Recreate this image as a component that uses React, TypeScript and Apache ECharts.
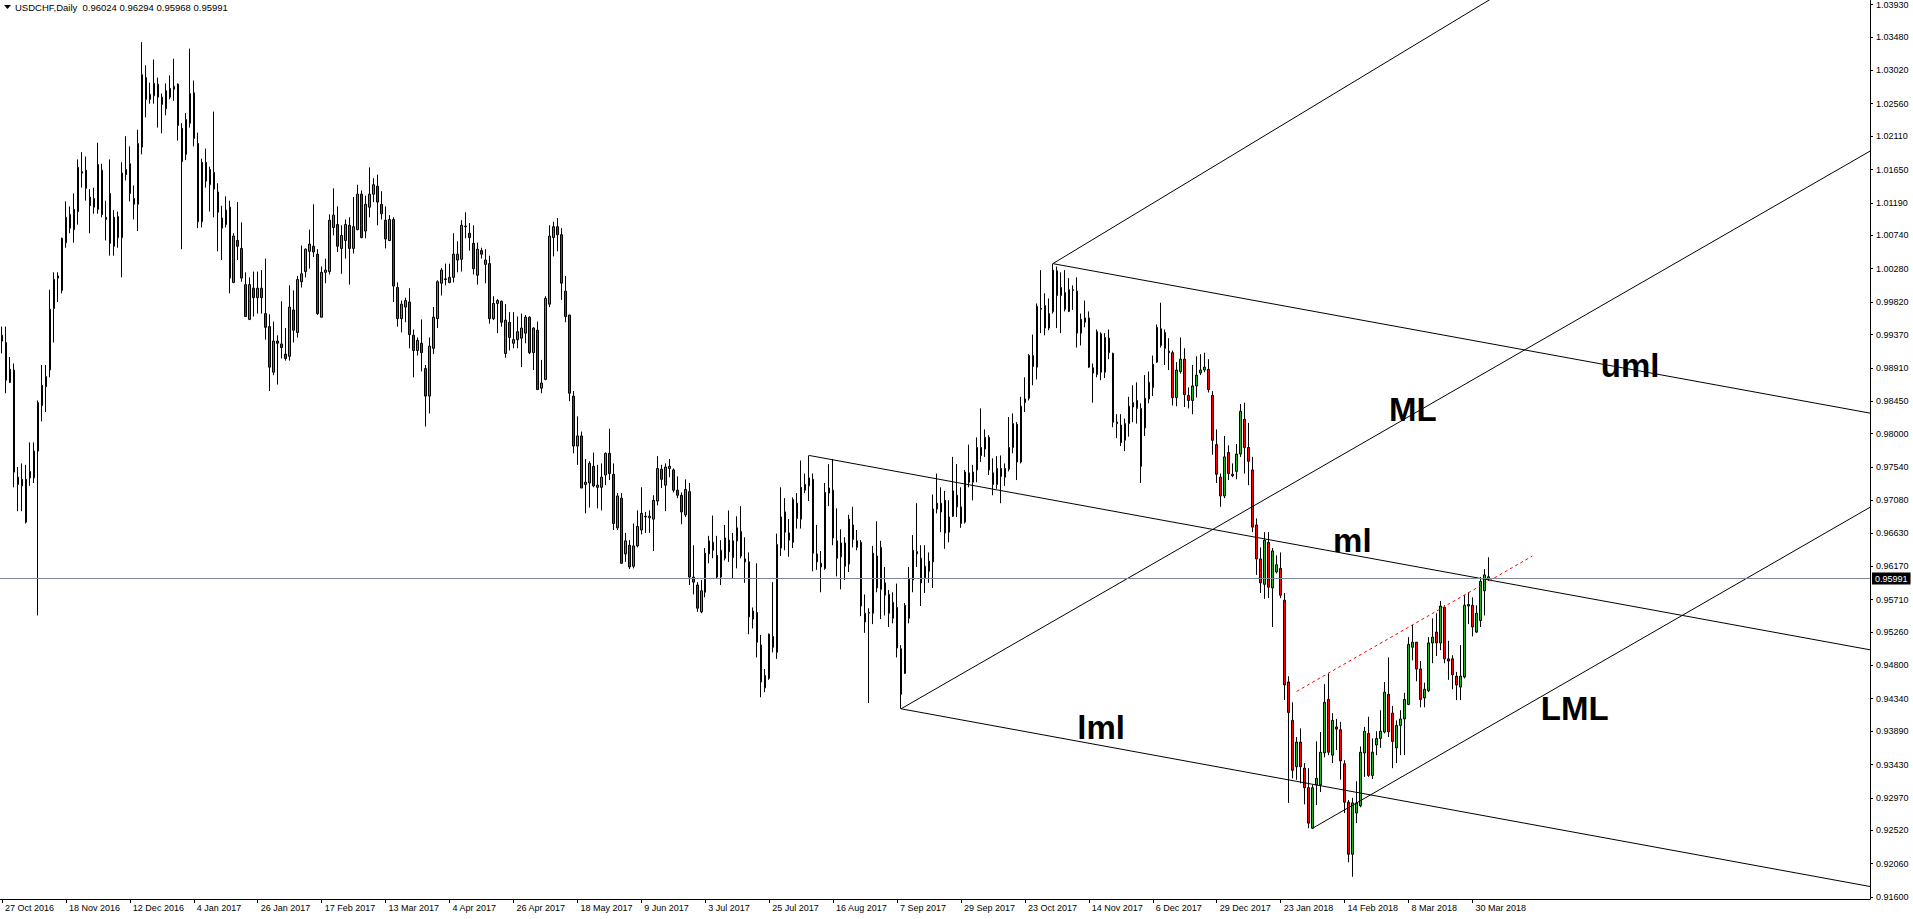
import React, { useEffect, useRef } from "react";
import * as echarts from "echarts";

const SYMBOL = "USDCHF";
const PERIOD = "Daily";

const opens = [
  0.9928, 0.9926, 0.9871, 0.9888, 0.9740, 0.9728, 0.9737, 0.9748, 0.9739, 0.9776,
  0.9839, 0.9865, 0.9888, 0.9973, 1.0015, 0.9998, 1.0064, 1.0103, 1.0082, 1.0107,
  1.0160, 1.0164, 1.0115, 1.0125, 1.0110, 1.0164, 1.0096, 1.0132, 1.0059, 1.0100,
  1.0071, 1.0158, 1.0173, 1.0125, 1.0117, 1.0196, 1.0292, 1.0262, 1.0267, 1.0283,
  1.0265, 1.0249, 1.0265, 1.0276, 1.0283, 1.0222, 1.0186, 1.0229, 1.0271, 1.0201,
  1.0093, 1.0175, 1.0144, 1.0161, 1.0134, 1.0098, 1.0089, 1.0113, 1.0009, 1.0067,
  1.0056, 1.0006, 0.9958, 1.0001, 0.9988, 1.0001, 0.9966, 0.9948, 0.9885, 0.9928,
  0.9924, 0.9910, 0.9907, 0.9971, 0.9940, 1.0010, 1.0024, 1.0052, 1.0059, 1.0048,
  0.9961, 1.0023, 1.0024, 1.0085, 1.0089, 1.0056, 1.0067, 1.0088, 1.0056, 1.0082,
  1.0131, 1.0080, 1.0113, 1.0131, 1.0142, 1.0117, 1.0095, 1.0067, 1.0096, 1.0002,
  0.9959, 0.9975, 0.9982, 0.9936, 0.9915, 0.9925, 0.9890, 0.9852, 0.9918, 0.9959,
  1.0008, 1.0014, 1.0009, 1.0016, 1.0040, 1.0041, 1.0086, 1.0077, 1.0063, 1.0019,
  1.0053, 1.0034, 1.0035, 0.9959, 0.9980, 0.9983, 0.9911, 0.9954, 0.9925, 0.9930,
  0.9932, 0.9939, 0.9961, 0.9912, 0.9943, 0.9863, 0.9875, 0.9979, 1.0071, 1.0086,
  1.0075, 0.9997, 0.9964, 0.9852, 0.9783, 0.9797, 0.9730, 0.9732, 0.9755, 0.9726,
  0.9726, 0.9743, 0.9773, 0.9744, 0.9670, 0.9711, 0.9634, 0.9646, 0.9617, 0.9645,
  0.9667, 0.9685, 0.9684, 0.9682, 0.9707, 0.9751, 0.9729, 0.9752, 0.9750, 0.9722,
  0.9715, 0.9688, 0.9720, 0.9602, 0.9591, 0.9554, 0.9581, 0.9634, 0.9650, 0.9632,
  0.9602, 0.9628, 0.9653, 0.9629, 0.9652, 0.9665, 0.9627, 0.9623, 0.9544, 0.9553,
  0.9508, 0.9449, 0.9462, 0.9520, 0.9498, 0.9642, 0.9692, 0.9663, 0.9650, 0.9704,
  0.9682, 0.9722, 0.9728, 0.9737, 0.9634, 0.9621, 0.9614, 0.9718, 0.9722, 0.9652,
  0.9630, 0.9649, 0.9620, 0.9674, 0.9643, 0.9650, 0.9540, 0.9552, 0.9552, 0.9631,
  0.9585, 0.9594, 0.9578, 0.9545, 0.9560, 0.9503, 0.9469, 0.9545, 0.9598, 0.9637,
  0.9628, 0.9601, 0.9610, 0.9623, 0.9696, 0.9704, 0.9708, 0.9664, 0.9686, 0.9715,
  0.9699, 0.9678, 0.9746, 0.9733, 0.9750, 0.9781, 0.9779, 0.9795, 0.9746, 0.9730,
  0.9741, 0.9740, 0.9751, 0.9781, 0.9813, 0.9761, 0.9843, 0.9849, 0.9908, 0.9892,
  0.9972, 0.9977, 0.9946, 0.9969, 1.0025, 0.9991, 0.9995, 0.9969, 0.9999, 0.9997,
  0.9939, 0.9954, 0.9960, 0.9891, 0.9882, 0.9938, 0.9885, 0.9932, 0.9911, 0.9816,
  0.9812, 0.9791, 0.9814, 0.9837, 0.9846, 0.9835, 0.9808, 0.9848, 0.9864, 0.9899,
  0.9945, 0.9940, 0.9914, 0.9912, 0.9850, 0.9886, 0.9903, 0.9853, 0.9846, 0.9866,
  0.9884, 0.9888, 0.9889, 0.9853, 0.9785, 0.9740, 0.9714, 0.9774, 0.9744, 0.9748,
  0.9772, 0.9820, 0.9781, 0.9750, 0.9674, 0.9627, 0.9592, 0.9650, 0.9587, 0.9609,
  0.9614, 0.9570, 0.9457, 0.9404, 0.9340, 0.9374, 0.9338, 0.9311, 0.9255, 0.9315,
  0.9315, 0.9359, 0.9433, 0.9356, 0.9395, 0.9391, 0.9344, 0.9291, 0.9219, 0.9276,
  0.9286, 0.9359, 0.9386, 0.9328, 0.9370, 0.9379, 0.9388, 0.9440, 0.9414, 0.9366,
  0.9397, 0.9406, 0.9426, 0.9505, 0.9512, 0.9475, 0.9435, 0.9445, 0.9511, 0.9526,
  0.9511, 0.9560, 0.9489, 0.9489, 0.9465, 0.9450, 0.9464, 0.9562, 0.9563, 0.9526,
  0.9542, 0.9583, 0.96024,
];

const closes = [
  0.9936, 0.9874, 0.9889, 0.9747, 0.9730, 0.9737, 0.9678, 0.9739, 0.9776, 0.9843,
  0.9867, 0.9879, 0.9972, 1.0013, 1.0018, 1.0070, 1.0099, 1.0084, 1.0110, 1.0168,
  1.0162, 1.0139, 1.0127, 1.0113, 1.0172, 1.0103, 1.0099, 1.0063, 1.0099, 1.0071,
  1.0160, 1.0165, 1.0132, 1.0117, 1.0201, 1.0296, 1.0262, 1.0269, 1.0284, 1.0265,
  1.0255, 1.0274, 1.0277, 1.0280, 1.0226, 1.0176, 1.0234, 1.0270, 1.0208, 1.0093,
  1.0175, 1.0149, 1.0165, 1.0138, 1.0106, 1.0084, 1.0109, 1.0015, 1.0073, 1.0059,
  1.0015, 0.9962, 1.0006, 0.9988, 1.0001, 0.9988, 0.9947, 0.9892, 0.9928, 0.9925,
  0.9919, 0.9904, 0.9975, 0.9943, 1.0013, 1.0021, 1.0055, 1.0062, 1.0051, 0.9966,
  1.0023, 1.0026, 1.0095, 1.0102, 1.0059, 1.0074, 1.0089, 1.0056, 1.0086, 1.0131,
  1.0071, 1.0117, 1.0131, 1.0144, 1.0120, 1.0104, 1.0069, 1.0096, 1.0004, 0.9959,
  0.9979, 0.9984, 0.9937, 0.9915, 0.9929, 0.9912, 0.9852, 0.9921, 0.9961, 1.0010,
  1.0026, 1.0013, 1.0016, 1.0048, 1.0048, 1.0088, 1.0087, 1.0071, 1.0028, 1.0055,
  1.0048, 1.0040, 0.9959, 0.9980, 0.9984, 0.9954, 0.9957, 0.9933, 0.9930, 0.9941,
  0.9946, 0.9961, 0.9912, 0.9946, 0.9861, 0.9870, 0.9987, 1.0073, 1.0086, 1.0075,
  1.0008, 0.9962, 0.9856, 0.9783, 0.9797, 0.9725, 0.9733, 0.9759, 0.9728, 0.9729,
  0.9740, 0.9773, 0.9745, 0.9676, 0.9714, 0.9621, 0.9652, 0.9616, 0.9645, 0.9672,
  0.9690, 0.9686, 0.9686, 0.9708, 0.9752, 0.9737, 0.9754, 0.9755, 0.9722, 0.9715,
  0.9692, 0.9723, 0.9602, 0.9595, 0.9559, 0.9583, 0.9635, 0.9652, 0.9639, 0.9602,
  0.9639, 0.9656, 0.9637, 0.9652, 0.9670, 0.9631, 0.9623, 0.9547, 0.9555, 0.9512,
  0.9457, 0.9466, 0.9523, 0.9505, 0.9647, 0.9685, 0.9664, 0.9653, 0.9709, 0.9683,
  0.9726, 0.9730, 0.9739, 0.9635, 0.9623, 0.9616, 0.9719, 0.9725, 0.9656, 0.9628,
  0.9649, 0.9617, 0.9682, 0.9654, 0.9652, 0.9562, 0.9552, 0.9553, 0.9635, 0.9587,
  0.9643, 0.9577, 0.9552, 0.9567, 0.9504, 0.9440, 0.9563, 0.9599, 0.9639, 0.9634,
  0.9594, 0.9617, 0.9624, 0.9696, 0.9704, 0.9692, 0.9663, 0.9685, 0.9721, 0.9699,
  0.9676, 0.9747, 0.9733, 0.9747, 0.9781, 0.9770, 0.9795, 0.9750, 0.9730, 0.9752,
  0.9752, 0.9752, 0.9781, 0.9814, 0.9761, 0.9838, 0.9848, 0.9908, 0.9893, 0.9976,
  0.9973, 0.9946, 0.9966, 1.0026, 0.9991, 1.0002, 0.9972, 0.9999, 0.9998, 0.9939,
  0.9958, 0.9960, 0.9892, 0.9884, 0.9941, 0.9885, 0.9933, 0.9912, 0.9816, 0.9814,
  0.9788, 0.9814, 0.9838, 0.9843, 0.9835, 0.9755, 0.9849, 0.9871, 0.9896, 0.9947,
  0.9922, 0.9918, 0.9912, 0.9850, 0.9888, 0.9903, 0.9854, 0.9846, 0.9866, 0.9881,
  0.9888, 0.9892, 0.9861, 0.9791, 0.9744, 0.9714, 0.9768, 0.9745, 0.9742, 0.9772,
  0.9831, 0.9781, 0.9762, 0.9671, 0.9627, 0.9594, 0.9653, 0.9588, 0.9638, 0.9619,
  0.9577, 0.9453, 0.9415, 0.9335, 0.9374, 0.9340, 0.9311, 0.9262, 0.9311, 0.9324,
  0.9360, 0.9429, 0.9360, 0.9404, 0.9392, 0.9348, 0.9291, 0.9219, 0.9290, 0.9290,
  0.9360, 0.9389, 0.9328, 0.9360, 0.9379, 0.9389, 0.9443, 0.9388, 0.9375, 0.9397,
  0.9406, 0.9433, 0.9509, 0.9512, 0.9475, 0.9433, 0.9447, 0.9511, 0.9519, 0.9511,
  0.9562, 0.9489, 0.9486, 0.9467, 0.9453, 0.9465, 0.9563, 0.9564, 0.9533, 0.9552,
  0.9596, 0.9605, 0.95991,
];

const lows = [
  0.9911, 0.9856, 0.9870, 0.9726, 0.9693, 0.9693, 0.9676, 0.9728, 0.9732, 0.9549,
  0.9817, 0.9830, 0.9878, 0.9926, 0.9982, 0.9994, 1.0057, 1.0077, 1.0064, 1.0089,
  1.0140, 1.0122, 1.0077, 1.0104, 1.0104, 1.0099, 1.0067, 1.0046, 1.0046, 1.0057,
  1.0016, 1.0150, 1.0121, 1.0096, 1.0080, 1.0186, 1.0237, 1.0256, 1.0256, 1.0223,
  1.0215, 1.0240, 1.0262, 1.0260, 1.0205, 1.0055, 1.0178, 1.0223, 1.0197, 1.0084,
  1.0085, 1.0140, 1.0107, 1.0099, 1.0052, 1.0040, 1.0085, 0.9994, 1.0008, 1.0040,
  1.0010, 0.9962, 0.9957, 0.9962, 0.9966, 0.9966, 0.9930, 0.9859, 0.9881, 0.9868,
  0.9904, 0.9901, 0.9901, 0.9926, 0.9933, 1.0002, 1.0016, 1.0028, 1.0044, 0.9964,
  0.9961, 1.0008, 1.0020, 1.0074, 1.0051, 1.0021, 1.0042, 1.0006, 1.0049, 1.0081,
  1.0070, 1.0070, 1.0099, 1.0120, 1.0088, 1.0096, 1.0056, 1.0066, 0.9982, 0.9948,
  0.9940, 0.9954, 0.9918, 0.9878, 0.9908, 0.9886, 0.9810, 0.9828, 0.9910, 0.9946,
  0.9991, 1.0005, 1.0008, 1.0009, 1.0023, 1.0024, 1.0070, 1.0053, 1.0020, 1.0006,
  1.0042, 1.0008, 0.9952, 0.9957, 0.9939, 0.9948, 0.9905, 0.9915, 0.9918, 0.9918,
  0.9892, 0.9925, 0.9910, 0.9888, 0.9861, 0.9856, 0.9874, 0.9975, 1.0045, 1.0052,
  0.9985, 0.9954, 0.9845, 0.9773, 0.9757, 0.9725, 0.9690, 0.9698, 0.9726, 0.9697,
  0.9694, 0.9729, 0.9736, 0.9667, 0.9667, 0.9621, 0.9623, 0.9613, 0.9614, 0.9643,
  0.9661, 0.9663, 0.9663, 0.9638, 0.9701, 0.9725, 0.9693, 0.9740, 0.9719, 0.9711,
  0.9675, 0.9685, 0.9591, 0.9578, 0.9554, 0.9552, 0.9574, 0.9621, 0.9628, 0.9600,
  0.9591, 0.9625, 0.9623, 0.9600, 0.9614, 0.9628, 0.9594, 0.9523, 0.9531, 0.9491,
  0.9436, 0.9443, 0.9460, 0.9498, 0.9489, 0.9631, 0.9639, 0.9630, 0.9642, 0.9669,
  0.9669, 0.9718, 0.9707, 0.9610, 0.9612, 0.9581, 0.9612, 0.9700, 0.9646, 0.9603,
  0.9585, 0.9598, 0.9609, 0.9643, 0.9639, 0.9548, 0.9525, 0.9428, 0.9537, 0.9581,
  0.9544, 0.9549, 0.9533, 0.9538, 0.9491, 0.9420, 0.9468, 0.9538, 0.9581, 0.9616,
  0.9562, 0.9580, 0.9594, 0.9587, 0.9690, 0.9664, 0.9641, 0.9650, 0.9685, 0.9685,
  0.9670, 0.9676, 0.9726, 0.9708, 0.9733, 0.9761, 0.9768, 0.9743, 0.9715, 0.9724,
  0.9704, 0.9728, 0.9748, 0.9773, 0.9736, 0.9759, 0.9830, 0.9846, 0.9867, 0.9875,
  0.9939, 0.9936, 0.9943, 0.9966, 0.9946, 0.9939, 0.9969, 0.9968, 0.9971, 0.9919,
  0.9922, 0.9947, 0.9891, 0.9843, 0.9878, 0.9874, 0.9877, 0.9903, 0.9809, 0.9794,
  0.9783, 0.9776, 0.9796, 0.9816, 0.9814, 0.9732, 0.9797, 0.9842, 0.9852, 0.9898,
  0.9919, 0.9895, 0.9888, 0.9839, 0.9838, 0.9883, 0.9837, 0.9835, 0.9827, 0.9850,
  0.9881, 0.9885, 0.9857, 0.9771, 0.9732, 0.9699, 0.9711, 0.9736, 0.9740, 0.9737,
  0.9768, 0.9745, 0.9729, 0.9664, 0.9605, 0.9580, 0.9572, 0.9573, 0.9533, 0.9607,
  0.9573, 0.9432, 0.9290, 0.9324, 0.9322, 0.9317, 0.9288, 0.9255, 0.9254, 0.9287,
  0.9305, 0.9353, 0.9356, 0.9345, 0.9363, 0.9322, 0.9276, 0.9208, 0.9188, 0.9262,
  0.9284, 0.9326, 0.9326, 0.9323, 0.9356, 0.9366, 0.9386, 0.9381, 0.9338, 0.9345,
  0.9356, 0.9356, 0.9425, 0.9487, 0.9458, 0.9422, 0.9422, 0.9443, 0.9483, 0.9493,
  0.9501, 0.9483, 0.9460, 0.9447, 0.9432, 0.9432, 0.9462, 0.9537, 0.9520, 0.9525,
  0.9533, 0.9549, 0.95968,
];

const highs = [
  0.9948, 0.9948, 0.9906, 0.9897, 0.9754, 0.9759, 0.9757, 0.9788, 0.9788, 0.9846,
  0.9895, 0.9895, 0.9999, 1.0023, 1.0023, 1.0071, 1.0121, 1.0114, 1.0132, 1.0179,
  1.0189, 1.0183, 1.0138, 1.0140, 1.0202, 1.0173, 1.0122, 1.0179, 1.0109, 1.0107,
  1.0175, 1.0211, 1.0197, 1.0143, 1.0220, 1.0341, 1.0309, 1.0285, 1.0317, 1.0292,
  1.0270, 1.0284, 1.0295, 1.0318, 1.0284, 1.0229, 1.0243, 1.0332, 1.0288, 1.0216,
  1.0180, 1.0194, 1.0169, 1.0245, 1.0146, 1.0115, 1.0128, 1.0122, 1.0077, 1.0120,
  1.0092, 1.0023, 1.0016, 1.0024, 1.0024, 1.0026, 1.0042, 0.9965, 0.9955, 0.9936,
  0.9983, 0.9946, 1.0005, 0.9998, 1.0018, 1.0060, 1.0056, 1.0082, 1.0117, 1.0055,
  1.0031, 1.0042, 1.0103, 1.0139, 1.0114, 1.0088, 1.0096, 1.0099, 1.0127, 1.0144,
  1.0136, 1.0129, 1.0168, 1.0153, 1.0158, 1.0135, 1.0114, 1.0102, 1.0099, 1.0009,
  0.9984, 0.9988, 1.0001, 0.9944, 0.9933, 0.9958, 0.9895, 0.9933, 0.9975, 1.0012,
  1.0029, 1.0035, 1.0035, 1.0077, 1.0066, 1.0095, 1.0106, 1.0091, 1.0088, 1.0064,
  1.0057, 1.0055, 1.0046, 0.9990, 0.9986, 0.9984, 0.9979, 0.9968, 0.9968, 0.9962,
  0.9966, 0.9964, 0.9962, 0.9947, 0.9955, 0.9902, 0.9990, 1.0088, 1.0093, 1.0098,
  1.0084, 1.0018, 0.9964, 0.9859, 0.9824, 0.9803, 0.9765, 0.9762, 0.9774, 0.9757,
  0.9759, 0.9774, 0.9807, 0.9759, 0.9718, 0.9718, 0.9663, 0.9653, 0.9676, 0.9694,
  0.9726, 0.9692, 0.9694, 0.9715, 0.9769, 0.9757, 0.9759, 0.9765, 0.9752, 0.9741,
  0.9719, 0.9737, 0.9732, 0.9646, 0.9595, 0.9598, 0.9642, 0.9659, 0.9687, 0.9659,
  0.9653, 0.9674, 0.9694, 0.9663, 0.9686, 0.9700, 0.9657, 0.9636, 0.9560, 0.9621,
  0.9522, 0.9475, 0.9524, 0.9595, 0.9662, 0.9726, 0.9711, 0.9682, 0.9712, 0.9718,
  0.9763, 0.9745, 0.9770, 0.9745, 0.9674, 0.9638, 0.9732, 0.9758, 0.9765, 0.9697,
  0.9668, 0.9657, 0.9688, 0.9699, 0.9667, 0.9653, 0.9578, 0.9559, 0.9645, 0.9679,
  0.9652, 0.9616, 0.9584, 0.9581, 0.9593, 0.9508, 0.9566, 0.9616, 0.9660, 0.9704,
  0.9646, 0.9646, 0.9636, 0.9716, 0.9745, 0.9726, 0.9721, 0.9708, 0.9768, 0.9758,
  0.9726, 0.9750, 0.9785, 0.9757, 0.9795, 0.9835, 0.9806, 0.9798, 0.9766, 0.9769,
  0.9770, 0.9759, 0.9823, 0.9828, 0.9816, 0.9851, 0.9878, 0.9910, 0.9937, 0.9980,
  1.0026, 0.9994, 0.9987, 1.0035, 1.0031, 1.0023, 1.0026, 1.0015, 1.0005, 1.0016,
  0.9966, 0.9984, 0.9969, 0.9897, 0.9944, 0.9940, 0.9939, 0.9944, 0.9912, 0.9827,
  0.9827, 0.9821, 0.9851, 0.9867, 0.9871, 0.9842, 0.9881, 0.9886, 0.9908, 0.9951,
  0.9981, 0.9944, 0.9932, 0.9915, 0.9899, 0.9933, 0.9918, 0.9864, 0.9895, 0.9907,
  0.9910, 0.9912, 0.9903, 0.9859, 0.9806, 0.9745, 0.9797, 0.9784, 0.9759, 0.9786,
  0.9841, 0.9843, 0.9815, 0.9768, 0.9683, 0.9643, 0.9664, 0.9664, 0.9642, 0.9632,
  0.9636, 0.9580, 0.9465, 0.9429, 0.9381, 0.9393, 0.9345, 0.9338, 0.9315, 0.9375,
  0.9388, 0.9454, 0.9469, 0.9414, 0.9406, 0.9402, 0.9349, 0.9294, 0.9297, 0.9320,
  0.9368, 0.9395, 0.9409, 0.9379, 0.9389, 0.9418, 0.9457, 0.9491, 0.9424, 0.9404,
  0.9418, 0.9442, 0.9519, 0.9536, 0.9512, 0.9486, 0.9456, 0.9519, 0.9545, 0.9552,
  0.9569, 0.9563, 0.9514, 0.9494, 0.9471, 0.9508, 0.9577, 0.9581, 0.9574, 0.9563,
  0.9602, 0.9613, 0.96294,
];

// Date labels shown every 16 bars on the time axis
const dateTicks = [
  "27 Oct 2016", "18 Nov 2016", "12 Dec 2016", "4 Jan 2017", "26 Jan 2017", "17 Feb 2017",
  "13 Mar 2017", "4 Apr 2017", "26 Apr 2017", "18 May 2017", "9 Jun 2017", "3 Jul 2017",
  "25 Jul 2017", "16 Aug 2017", "7 Sep 2017", "29 Sep 2017", "23 Oct 2017", "14 Nov 2017",
  "6 Dec 2017", "29 Dec 2017", "23 Jan 2018", "14 Feb 2018", "8 Mar 2018", "30 Mar 2018",
];
const BARS_PER_DATE_TICK = 16;

// Price scale labels
const priceTicks = [
  1.0393, 1.0348, 1.0302, 1.0256, 1.0211, 1.0165, 1.0119, 1.0074, 1.0028, 0.9982,
  0.9937, 0.9891, 0.9845, 0.98, 0.9754, 0.9708, 0.9663, 0.9617, 0.9571, 0.9526,
  0.948, 0.9434, 0.9389, 0.9343, 0.9297, 0.9252, 0.9206, 0.916,
];

const bidPrice = 0.95991;
const TOTAL_SLOTS = 468; // bars + empty chart shift on the right

// Pitchfork lines: [barIndex, price] endpoints
const pitchforkLines = [
  [[202, 0.977], [468, 0.9501]], // ml
  [[263, 1.0035], [468, 0.9828]], // uml
  [[225, 0.942], [468, 0.9174]], // lml
  [[225, 0.942], [468, 1.0192]], // ML
  [[263, 1.0035], [400, 1.0492]], // upper parallel
  [[328, 0.9255], [468, 0.97]], // LML
];
const dottedTrend = [[324, 0.9444], [383, 0.9631]];

const annotations = [
  { text: "uml", bar: 400, price: 0.9894 },
  { text: "ML", bar: 347, price: 0.9834 },
  { text: "ml", bar: 333, price: 0.9653 },
  { text: "lml", bar: 269, price: 0.9394 },
  { text: "LML", bar: 385, price: 0.9421 },
];

const FONT = "'Liberation Sans', Arial, Helvetica, sans-serif";

export default function App() {
  const ref = useRef<HTMLDivElement>(null);

  useEffect(() => {
    if (!ref.current) return;
    const chart = echarts.init(ref.current, null, { renderer: "svg" });
    const showTick = (i: number) =>
      i % BARS_PER_DATE_TICK === 0 && i / BARS_PER_DATE_TICK < dateTicks.length;
    const categories = Array.from({ length: TOTAL_SLOTS }, (_, i) =>
      showTick(i) ? dateTicks[i / BARS_PER_DATE_TICK] : ""
    );
    const ohlc = opens.map((o, i) => [o, closes[i], lows[i], highs[i]]);
    const last = opens.length - 1;
    const f5 = (v: number) => v.toFixed(5);

    const lineSeries = pitchforkLines.map((pts) => ({
      type: "line",
      data: pts,
      symbol: "none",
      silent: true,
      z: 3,
      clip: true,
      lineStyle: { color: "#000", width: 1 },
    }));

    chart.setOption({
      animation: false,
      backgroundColor: "#ffffff",
      title: {
        text: `${SYMBOL},${PERIOD}  ${f5(opens[last])} ${f5(highs[last])} ${f5(lows[last])} ${f5(closes[last])}`,
        left: 15,
        top: 2,
        padding: 0,
        textStyle: { fontSize: 9.5, fontWeight: "normal", color: "#000", fontFamily: FONT },
      },
      graphic: [
        {
          type: "polygon",
          shape: { points: [[4, 5], [11, 5], [7.5, 9]] },
          style: { fill: "#000" },
        },
      ],
      grid: { left: -2, top: 0, right: 43, bottom: 20, containLabel: false },
      xAxis: {
        type: "category",
        data: categories,
        boundaryGap: true,
        axisLine: { show: true, lineStyle: { color: "#000", width: 1 } },
        axisTick: {
          show: true,
          alignWithLabel: true,
          interval: (i: number) => showTick(i),
          length: 4,
          lineStyle: { color: "#000" },
        },
        axisLabel: {
          interval: (i: number) => showTick(i),
          align: "left",
          padding: [0, 0, 0, 3],
          margin: 4,
          fontSize: 9,
          color: "#000",
          fontFamily: FONT,
        },
        splitLine: { show: false },
      },
      yAxis: {
        type: "value",
        position: "right",
        min: 0.915724,
        max: 1.039852,
        axisLine: { show: true, lineStyle: { color: "#000", width: 1 } },
        axisTick: { show: true, length: 3, customValues: priceTicks, lineStyle: { color: "#000" } },
        axisLabel: {
          customValues: priceTicks,
          formatter: (v: number) => f5(v),
          fontSize: 9,
          color: "#000",
          margin: 6,
          fontFamily: FONT,
        },
        splitLine: { show: false },
      },
      series: [
        {
          type: "candlestick",
          data: ohlc,
          barWidth: 2,
          silent: true,
          itemStyle: {
            color: "#1fb41f",
            color0: "#ff0000",
            borderColor: "#000",
            borderColor0: "#000",
            borderColorDoji: "#000",
            borderWidth: 1,
          },
          markLine: {
            silent: true,
            symbol: ["none", "none"],
            lineStyle: { color: "#778899", width: 1, type: "solid" },
            label: {
              show: true,
              position: "end",
              distance: 2,
              formatter: f5(bidPrice),
              color: "#fff",
              backgroundColor: "#000",
              padding: [2, 3, 1, 3],
              fontSize: 9,
              fontFamily: FONT,
            },
            data: [{ yAxis: bidPrice }],
          },
        },
        ...lineSeries,
        {
          type: "line",
          data: dottedTrend,
          symbol: "none",
          silent: true,
          z: 3,
          lineStyle: { color: "#ff0000", width: 1, type: [3, 3] },
        },
        {
          type: "scatter",
          data: annotations.map((a) => ({ value: [a.bar, a.price], name: a.text })),
          symbolSize: 1,
          silent: true,
          z: 4,
          itemStyle: { color: "rgba(0,0,0,0)" },
          label: {
            show: true,
            opacity: 1,
            position: "right",
            distance: 0,
            formatter: (p: any) => p.name,
            fontSize: 33,
            fontWeight: "bold",
            color: "#000",
            fontFamily: FONT,
          },
          labelLayout: { hideOverlap: false },
        },
      ],
    });

    return () => chart.dispose();
  }, []);

  return (
    <div
      ref={ref}
      style={{ position: "absolute", left: 0, top: 0, width: "1913px", height: "919px" }}
    />
  );
}
